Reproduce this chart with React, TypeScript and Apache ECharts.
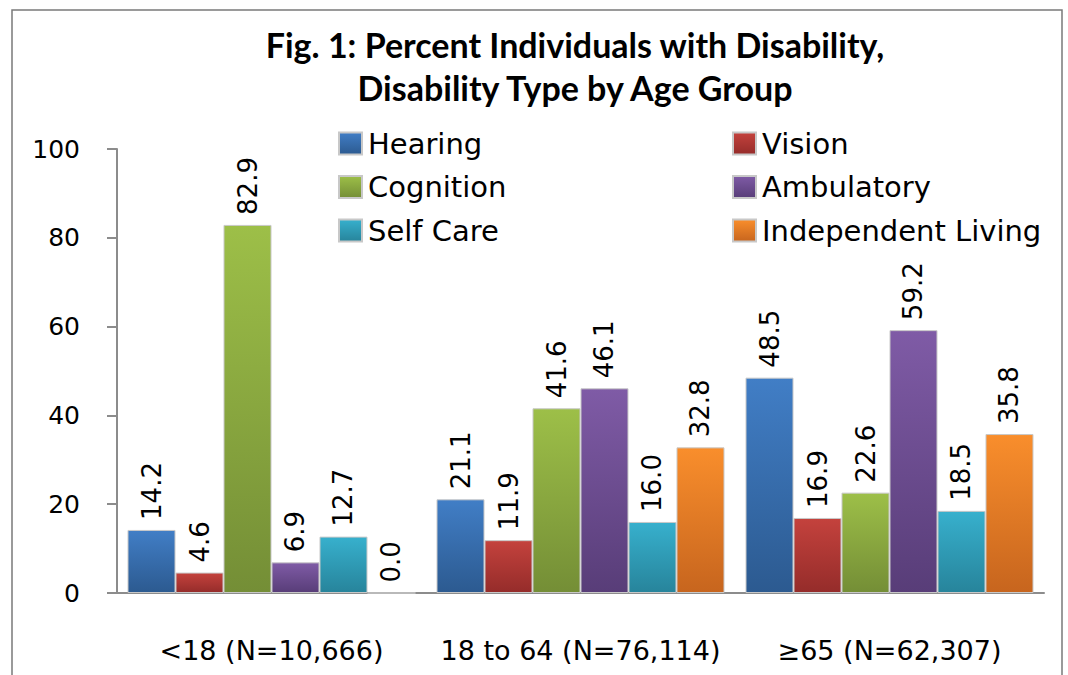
import React, { useEffect, useRef } from "react";
import * as echarts from "echarts";

const categories = ["<18 (N=10,666)", "18 to 64 (N=76,114)", "≥65 (N=62,307)"];
const seriesNames = ["Hearing", "Vision", "Cognition", "Ambulatory", "Self Care", "Independent Living"];
const hearing = [14.2, 21.1, 48.5];
const vision = [4.6, 11.9, 16.9];
const cognition = [82.9, 41.6, 22.6];
const ambulatory = [6.9, 46.1, 59.2];
const selfCare = [12.7, 16.0, 18.5];
const independentLiving = [0.0, 32.8, 35.8];
const yTicks = [0, 20, 40, 60, 80, 100];

const seriesValues = [hearing, vision, cognition, ambulatory, selfCare, independentLiving];
const gradients: [string, string][] = [
  ["#417EC6", "#2C5A90"],
  ["#C4423D", "#952C2A"],
  ["#9DBF48", "#748E36"],
  ["#7F5BA6", "#583D78"],
  ["#37B0CD", "#27849B"],
  ["#F98E2C", "#C7651E"],
];

export default function App() {
  const ref = useRef<HTMLDivElement>(null);
  useEffect(() => {
    if (!ref.current) return;
    const chart = echarts.init(ref.current, null, { renderer: "svg" });
    const labelFont = "'DejaVu Sans', sans-serif";
    const series = seriesNames.map((name, i) => ({
      name,
      type: "bar",
      data: seriesValues[i],
      barGap: "0%",
      barCategoryGap: "6.8%",
      itemStyle: {
        color: new echarts.graphic.LinearGradient(0, 0, 0, 1, [
          { offset: 0, color: gradients[i][0] },
          { offset: 1, color: gradients[i][1] },
        ]),
        borderColor: "#c8c8c8",
        borderWidth: 1,
      },
      label: {
        show: true,
        position: "top",
        rotate: 90,
        align: "left",
        verticalAlign: "middle",
        distance: 10,
        color: "#000",
        fontFamily: labelFont,
        fontSize: 26,
        formatter: (p: any) => Number(p.value).toFixed(1),
      },
    }));
    const legendText = { fontFamily: labelFont, fontSize: 29, lineHeight: 28, color: "#000", padding: [0, 0, 0, 1] };
    chart.setOption({
      animation: false,
      backgroundColor: "#fff",
      title: {
        text: "Fig. 1: Percent Individuals with Disability,\nDisability Type by Age Group",
        left: 575,
        top: 23,
        padding: 0,
        textAlign: "center",
        textStyle: {
          fontFamily: "Lato, sans-serif",
          fontWeight: "bold",
          fontSize: 34,
          lineHeight: 43,
          color: "#000",
        },
      },
      legend: [
        {
          data: ["Hearing", "Cognition", "Self Care"],
          orient: "vertical",
          left: 338,
          top: 129,
          padding: 0,
          itemWidth: 23,
          itemHeight: 22,
          itemGap: 14.5,
          icon: "rect",
          textStyle: legendText,
        },
        {
          data: ["Vision", "Ambulatory", "Independent Living"],
          orient: "vertical",
          left: 732,
          top: 129,
          padding: 0,
          itemWidth: 23,
          itemHeight: 22,
          itemGap: 14.5,
          icon: "rect",
          textStyle: legendText,
        },
      ],
      grid: { left: 117, right: 24, top: 149, bottom: 82, containLabel: false },
      xAxis: {
        type: "category",
        data: categories,
        axisLine: { show: true, lineStyle: { color: "#8c8c8c", width: 2 } },
        axisTick: { show: false },
        axisLabel: { color: "#000", fontFamily: labelFont, fontSize: 27, margin: 44, interval: 0 },
      },
      yAxis: {
        type: "value",
        min: 0,
        max: 100,
        interval: 20,
        axisLine: { show: true, lineStyle: { color: "#8c8c8c", width: 2 } },
        axisTick: { show: true, length: 10, lineStyle: { color: "#8c8c8c", width: 2 } },
        splitLine: { show: false },
        axisLabel: {
          color: "#000",
          fontFamily: labelFont,
          fontSize: 25,
          margin: 37,
          formatter: (v: number) => (yTicks.includes(v) ? String(v) : ""),
        },
      },
      graphic: [
        {
          type: "rect",
          silent: true,
          z: 100,
          shape: { x: 12, y: 10, width: 1050, height: 700 },
          style: { fill: "none", stroke: "#7a7a7a", lineWidth: 1.5 },
        },
      ],
      series,
    });
    return () => chart.dispose();
  }, []);
  return (
    <div
      ref={ref}
      style={{ position: "fixed", left: 0, top: 0, width: 1068, height: 675, background: "#fff" }}
    />
  );
}
